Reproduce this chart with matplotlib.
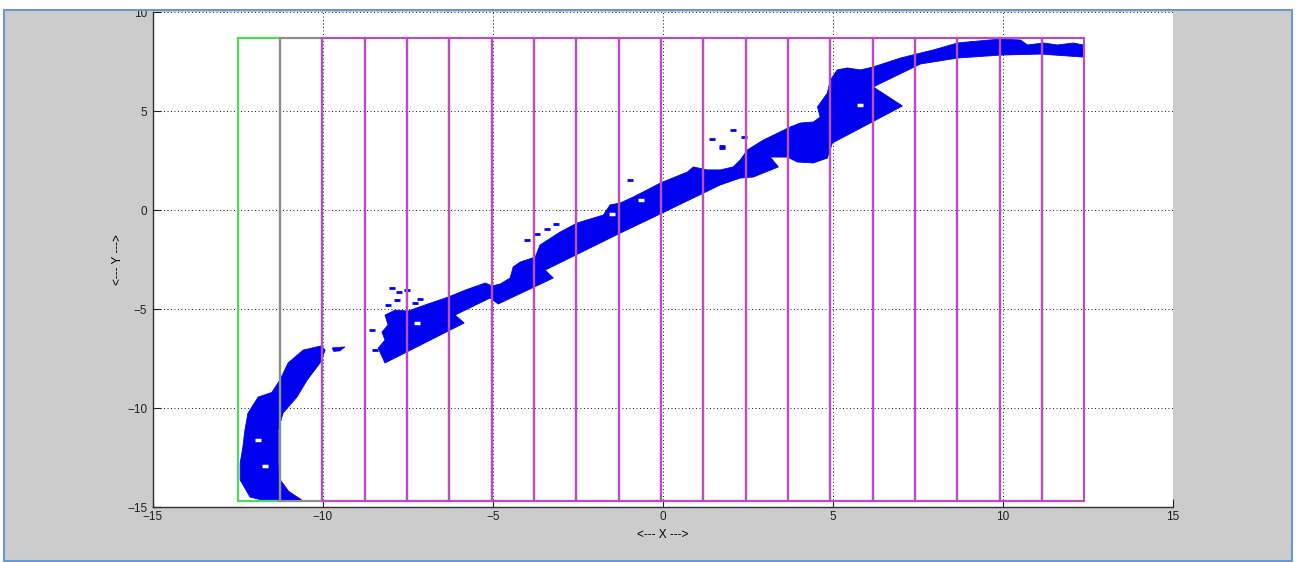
import numpy as np
import matplotlib
matplotlib.use("Agg")
from matplotlib import pyplot as plt
from matplotlib.patches import Rectangle

plt.rcParams['font.family'] = ['Liberation Sans', 'DejaVu Sans']

# cell grid laid over the scan
cell_edges = np.linspace(-12.5, 12.4, 21)
cell_bottom = -14.67
cell_top = 8.72
cell_colors = ['#55d855', '#8e8e8e'] + ['#b64fc0'] * 18

# outline of the long scanned band (lower edge left->right, upper edge right->left)
band_x = [-8.17, -5.84, -6.11, -5.08, -4.84, -3.22, -3.46, -1.25, -0.02, 1.69,
          2.28, 2.66, 3.40, 3.16, 3.66, 3.96, 4.43, 4.84, 4.99, 7.05,
          6.19, 7.58, 8.67, 9.93, 11.11, 12.37,
          12.37, 12.08, 11.61, 11.20, 10.73, 10.52, 9.93, 8.96, 8.67, 7.96,
          7.58, 6.99, 6.19, 5.81, 5.43, 5.13, 4.93, 4.84, 4.55, 4.63,
          4.43, 4.05, 3.75, 2.96, 2.49, 2.28, 2.07, 1.69, 1.31, 0.90,
          0.72, -0.07, -0.46, -0.87, -1.25, -1.55, -1.75, -2.52, -3.02, -3.61,
          -3.75, -4.19, -4.40, -4.49, -4.78, -5.02, -5.22, -5.81, -6.31, -6.99,
          -7.49, -7.87, -8.17, -8.08, -8.26, -8.17, -8.37]
band_y = [-7.71, -5.69, -5.29, -4.43, -4.73, -3.42, -3.02, -1.15, -0.14, 1.28,
          1.63, 1.68, 2.19, 2.69, 2.69, 2.44, 2.39, 2.64, 3.40, 5.27,
          6.23, 7.39, 7.69, 7.84, 7.89, 7.74,
          8.35, 8.45, 8.35, 8.45, 8.35, 8.60, 8.65, 8.50, 8.45, 8.10,
          7.94, 7.69, 7.24, 7.09, 7.19, 7.09, 6.58, 5.92, 5.22, 4.71,
          4.46, 4.41, 4.21, 3.55, 3.05, 2.54, 2.19, 2.04, 2.04, 2.19,
          1.93, 1.38, 1.03, 0.67, 0.37, 0.27, -0.24, -0.64, -1.10, -1.75,
          -2.36, -2.61, -2.86, -3.42, -3.72, -3.82, -3.67, -4.03, -4.38, -4.78,
          -5.09, -5.04, -5.29, -5.79, -6.15, -6.55, -6.96]

# curved section at the left end (outer edge down, inner edge back up)
arc_x = [-10.05, -10.58, -11.02, -11.26, -11.50, -11.90, -12.20, -12.29, -12.35, -12.43,
         -12.43, -12.14, -11.80, -10.62, -11.00, -11.25, -11.31, -11.31, -11.31, -11.17,
         -10.76, -10.46, -10.08, -9.93]
arc_y = [-6.85, -7.06, -7.71, -8.57, -9.20, -9.43, -10.24, -11.10, -11.95, -12.76,
         -13.62, -14.48, -14.63, -14.63, -14.20, -13.62, -12.76, -11.95, -11.10, -10.24,
         -9.43, -8.57, -7.71, -7.06]

blob_x = [-9.72, -9.35, -9.50, -9.68]
blob_y = [-6.95, -6.90, -7.10, -7.12]

# isolated returns
spot_x = [-3.99, -3.69, -3.40, -3.13, -0.96, -7.97, -7.77, -7.53, -7.28, -7.14,
          -7.82, -8.08, -8.55, -8.46, 2.08, 2.38, 1.74, 1.45, 1.75]
spot_y = [-1.50, -1.20, -0.94, -0.69, 1.53, -3.94, -4.11, -4.03, -4.70, -4.49,
          -4.53, -4.78, -6.05, -7.06, 4.06, 3.72, 3.13, 3.59, 3.26]

# gaps inside the band
hole_x = [-7.23, -0.63, -1.50, 5.81, -11.90, -11.70]
hole_y = [-5.70, 0.52, -0.18, 5.32, -11.60, -12.90]

fig = plt.figure(figsize=(12.96, 5.62), dpi=100)
fig.patch.set_facecolor('white')

# grey panel behind the axes
fig.add_artist(Rectangle((3.5 / 1296, 1.5 / 562), 1288 / 1296, 551 / 562,
                         transform=fig.transFigure, facecolor='#cccccc',
                         edgecolor='none', zorder=-1))

ax = fig.add_axes([0.1179, 0.0973, 0.7870, 0.8808])
ax.set_facecolor('white')
ax.set_xlim(-15, 15)
ax.set_ylim(-15, 10)
ax.set_xticks(np.arange(-15, 16, 5))
ax.set_yticks(np.arange(-15, 11, 5))
ax.grid(True, linestyle=(0, (1.2, 3)), color='black', linewidth=0.6)
ax.set_axisbelow(True)
for s in ['top', 'right']:
    ax.spines[s].set_visible(False)
for s in ['left', 'bottom']:
    ax.spines[s].set_color('#303030')
    ax.spines[s].set_linewidth(1.0)
ax.tick_params(direction='in', length=6, width=0.8, labelsize=8.5,
               colors='#202020')
ax.tick_params(axis='x', pad=3)
ax.tick_params(axis='y', pad=4)

ax.fill(band_x, band_y, color='#0000f0', lw=0.6, zorder=2)
ax.fill(arc_x, arc_y, color='#0000f0', lw=0.6, zorder=2)
ax.fill(blob_x, blob_y, color='#0000f0', lw=0.6, zorder=2)
ax.plot(spot_x, spot_y, '_', color='#0000f0', ms=5, mew=2, zorder=2)
ax.plot(hole_x, hole_y, '_', color='white', ms=5, mew=2.5, zorder=2)

for i in range(len(cell_edges) - 1):
    ax.add_patch(Rectangle((cell_edges[i], cell_bottom),
                           cell_edges[i + 1] - cell_edges[i], cell_top - cell_bottom,
                           fill=False, edgecolor=cell_colors[i], linewidth=1.6,
                           zorder=3))

ax.set_xlabel('<--- X --->', fontsize=8.5, labelpad=4)
ax.set_ylabel('<--- Y --->', fontsize=8.5, labelpad=2)

# white margin and frame around the panel
fig.add_artist(Rectangle((0, 1 - 9.5 / 562), 1, 9.5 / 562, transform=fig.transFigure,
                         facecolor='white', edgecolor='none', zorder=5))
fig.add_artist(Rectangle((3.5 / 1296, 1.5 / 562), 1288 / 1296, 551 / 562,
                         transform=fig.transFigure, facecolor='none',
                         edgecolor='#6b97cf', linewidth=1.5, zorder=6))

fig.savefig('out.png', dpi=100)
